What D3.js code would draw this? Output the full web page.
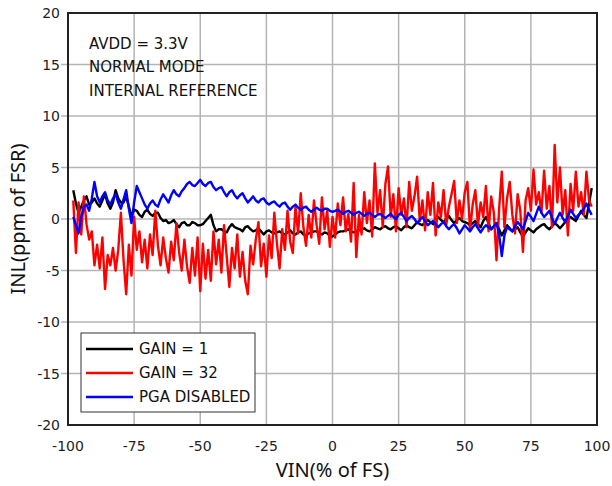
<!DOCTYPE html>
<html>
<head>
<meta charset="utf-8">
<script src="https://cdn.jsdelivr.net/npm/d3@7"></script>
<style>
  body { margin: 0; background: #fff; }
  svg { display: block; font-family: "Noto Sans", "Open Sans", sans-serif; }
  .small { font-family: "DejaVu Sans", "Noto Sans", sans-serif; }
</style>
</head>
<body>
<div id="chart"></div>
<script>
// x ticks and y ticks
const xTicks = [-100, -75, -50, -25, 0, 25, 50, 75, 100];
const yTicks = [-20, -15, -10, -5, 0, 5, 10, 15, 20];

// all series: one point per 1 % FS from -98 to 98
const xStart = -98;

// GAIN = 32
const redValues = [
  1.8, -3.3, 1.6, -1.5, 2.2, -0.5, -2.0, -1.2, -4.5, -2.5,
  -4.8, -1.8, -6.8, -3.5, -4.5, -2.8, -5.0, -3.0, 0.6, -4.0,
  -7.3, -2.5, -5.5, 0.2, -3.0, -1.2, -4.2, -2.0, -4.8, -1.5,
  -3.5, 0.8, -2.6, -4.5, -1.8, -3.8, -5.2, -2.2, -4.0, -0.4,
  -3.2, -5.0, -2.0, -4.6, -6.2, -2.8, -5.5, -1.8, -7.0, -2.4,
  -5.8, -3.0, -6.0, -1.2, -4.4, -2.0, -5.2, -0.6, -3.6, -6.6,
  -2.8, -4.8, -1.5, -5.6, -3.2, -6.0, -7.3, -2.6, -4.4, -2.0,
  -0.3, -4.6, -2.4, -5.6, -1.6, -3.8, 0.6, -2.4, -4.8, -1.0,
  -3.0, 0.8, -2.2, -3.3, 1.2, -1.4, 2.5, -0.8, -2.6, 0.4,
  -1.8, 1.8, -0.6, -2.4, 2.1, -1.0, 0.8, -2.7, 0.2, -1.8,
  1.5, -0.6, 2.1, -1.2, 0.5, -2.2, 3.5, -3.7, 0.4, -1.5,
  2.6, -0.4, 1.8, -1.7, 5.4, 0.6, 2.8, -0.8, 3.4, 5.1,
  0.2, 2.4, -1.2, 3.0, 0.4, 2.0, -0.8, 3.6, 0.8, 2.2,
  4.1, -0.2, 1.8, -1.1, 2.6, 0.4, 3.5, -1.6, 1.6, 0.2,
  2.8, -0.6, 1.2, 2.4, 3.7, -0.4, 1.8, 0.0, 2.6, 3.6,
  -1.1, 1.4, 2.8, -0.6, 1.6, 0.2, 3.2, -1.2, 2.2, 0.6,
  -4.0, 1.0, 4.6, -0.8, 2.0, 3.6, 0.4, -1.4, 2.4, 0.8,
  -3.2, 1.8, 3.0, 0.8, 4.8, 1.4, 2.6, 0.6, 4.7, 1.0,
  3.2, -0.8, 7.2, 1.6, 5.0, 0.4, 2.8, -1.6, 3.4, 0.8,
  4.6, 1.2, 2.6, 0.4, 4.6, 1.8, 1.2
];

// GAIN = 1
const blackValues = [
  2.8, 1.5, 0.6, 1.2, 1.8, 2.2, 1.4, 1.6, 2.0, 1.5,
  1.2, 1.8, 2.4, 1.5, 1.0, 1.6, 2.8, 2.0, 1.6, 1.6,
  2.2, 1.2, 0.3, 0.9, 0.8, 0.4, 0.2, 0.7, 0.9, 0.5,
  0.3, 0.6, 0.6, 0.1, -0.2, -0.1, -0.4, -0.3, -0.1, -0.5,
  -0.8, -0.4, -0.3, -0.6, -0.6, -0.3, -0.4, -0.6, -0.6, -0.5,
  -0.2, 0.1, 0.4, -0.6, -1.2, -1.0, -1.0, -1.2, -1.3, -0.8,
  -0.5, -0.8, -0.9, -1.0, -1.2, -0.8, -0.7, -1.0, -1.2, -1.1,
  -0.9, -1.2, -1.5, -1.2, -1.1, -1.3, -1.4, -1.3, -1.2, -1.4,
  -1.5, -1.3, -1.1, -1.4, -1.5, -1.3, -1.2, -1.5, -1.6, -1.4,
  -1.3, -1.2, -1.2, -1.4, -1.5, -1.3, -1.4, -1.6, -1.7, -1.5,
  -1.3, -1.2, -1.2, -1.1, -1.0, -1.2, -1.3, -1.2, -1.1, -1.0,
  -0.9, -1.1, -1.2, -1.0, -0.8, -0.9, -1.0, -0.8, -0.7, -0.9,
  -1.0, -0.8, -0.7, -0.9, -1.1, -0.8, -0.6, -0.8, -0.9, -0.6,
  -0.3, -0.5, -0.6, -0.3, -0.1, -0.3, -0.5, -0.1, 0.2, -0.1,
  -0.3, 0.0, 0.3, -0.1, -0.4, -0.1, 0.1, -0.2, -0.3, -0.4,
  -0.6, -0.4, -0.2, -0.5, -0.8, -0.2, 0.2, -0.4, -1.0, -0.7,
  -0.4, -1.0, -1.6, -1.1, -0.6, -0.9, -1.2, -1.0, -0.8, -1.3,
  -1.7, -1.3, -0.9, -1.1, -1.3, -1.0, -0.8, -0.6, -0.5, -0.8,
  -1.0, -0.7, -0.4, -0.6, -0.9, -0.6, -0.3, 0.0, 0.2, 0.0,
  -0.2, 0.3, 0.8, 0.4, 0.1, 1.5, 3.0
];

// PGA DISABLED
const blueValues = [
  0.2, -0.6, -1.4, 0.2, 1.2, 1.4, 0.8, 2.0, 3.6, 2.2,
  1.6, 2.2, 2.6, 1.8, 1.4, 2.0, 2.4, 1.6, 1.0, 1.9,
  2.8, 1.0, -0.4, 1.6, 3.2, 2.6, 2.0, 1.4, 1.0, 1.5,
  1.8, 1.4, 1.2, 1.9, 2.4, 2.0, 1.6, 2.3, 2.8, 2.4,
  2.2, 2.7, 3.0, 3.4, 3.6, 3.3, 3.2, 3.5, 3.8, 3.4,
  3.2, 3.5, 3.6, 3.1, 2.8, 3.0, 3.1, 2.6, 2.2, 2.6,
  2.8, 2.3, 2.0, 2.3, 2.5, 2.0, 1.6, 1.9, 2.2, 1.8,
  1.6, 1.9, 2.0, 1.6, 1.4, 1.6, 1.7, 1.4, 1.2, 1.5,
  1.6, 1.2, 0.9, 1.2, 1.4, 1.1, 0.9, 1.1, 1.2, 0.9,
  0.7, 0.9, 1.1, 0.9, 0.8, 1.0, 1.0, 0.8, 0.7, 0.8,
  0.9, 0.7, 0.5, 0.7, 0.8, 0.6, 0.4, 0.6, 0.7, 0.5,
  0.3, 0.5, 0.6, 0.4, 0.2, 0.4, 0.5, 0.3, 0.1, 0.3,
  0.5, 0.2, 0.0, 0.4, 0.6, 0.2, -0.2, 0.1, 0.3, 0.0,
  -0.4, -0.1, 0.2, -0.2, -0.6, -0.4, -0.2, -0.5, -0.8, -0.5,
  -0.3, -0.7, -1.0, -0.7, -0.5, -0.9, -1.4, -1.0, -0.6, -0.9,
  -1.2, -0.8, -0.5, -0.9, -1.3, -0.9, -0.6, -0.8, -1.0, -0.7,
  -0.4, -1.5, -3.6, -1.6, -0.8, -1.0, -1.2, -0.7, -0.3, -0.6,
  -1.0, -0.2, 0.6, 0.2, -0.2, 0.5, 1.2, 0.6, 0.2, 0.5,
  0.8, 0.1, -0.5, 0.1, 0.6, 0.1, -0.3, 0.3, 0.9, 0.5,
  0.1, 0.4, 0.6, 1.0, 1.5, 0.9, 0.4
];

const annotations = ["AVDD = 3.3V", "NORMAL MODE", "INTERNAL REFERENCE"];

const series = [
  { name: "GAIN = 1", color: "#000000", values: blackValues },
  { name: "GAIN = 32", color: "#ff0000", values: redValues },
  { name: "PGA DISABLED", color: "#0000ff", values: blueValues }
];

const width = 612, height = 486;
const margin = { top: 13, right: 15, bottom: 61, left: 68 };
const innerW = width - margin.left - margin.right;
const innerH = height - margin.top - margin.bottom;

const svg = d3.select("#chart").append("svg")
  .attr("width", width)
  .attr("height", height);

const x = d3.scaleLinear().domain([-100, 100]).range([0, innerW]);
const y = d3.scaleLinear().domain([-20, 20]).range([innerH, 0]);

const g = svg.append("g").attr("transform", `translate(${margin.left},${margin.top})`);

// grid
g.append("g").selectAll("line")
  .data(xTicks.slice(1, -1))
  .join("line")
  .attr("x1", d => x(d)).attr("x2", d => x(d))
  .attr("y1", 0).attr("y2", innerH)
  .attr("stroke", "#b4b4b4").attr("stroke-width", 1.5);

g.append("g").selectAll("line")
  .data(yTicks.slice(1, -1))
  .join("line")
  .attr("x1", -7).attr("x2", innerW)
  .attr("y1", d => y(d)).attr("y2", d => y(d))
  .attr("stroke", "#b4b4b4").attr("stroke-width", 1.5);

// data lines
const line = d3.line()
  .x(d => x(d[0]))
  .y(d => y(d[1]));

series.forEach(s => {
  const pts = s.values.map((v, i) => [xStart + i, v]);
  g.append("path")
    .datum(pts)
    .attr("fill", "none")
    .attr("stroke", s.color)
    .attr("stroke-width", 2.4)
    .attr("stroke-linejoin", "round")
    .attr("d", line);
});

// frame
g.append("rect")
  .attr("width", innerW).attr("height", innerH)
  .attr("fill", "none")
  .attr("stroke", "#222").attr("stroke-width", 2);

// tick labels
g.append("g").selectAll("text")
  .data(yTicks)
  .join("text")
  .attr("class", "small")
  .attr("x", -8)
  .attr("y", d => y(d))
  .attr("dy", "0.36em")
  .attr("text-anchor", "end")
  .attr("font-size", 14)
  .attr("fill", "#222")
  .text(d => d);

g.append("g").selectAll("text")
  .data(xTicks)
  .join("text")
  .attr("class", "small")
  .attr("x", d => x(d))
  .attr("y", innerH + 26)
  .attr("text-anchor", "middle")
  .attr("font-size", 14)
  .attr("fill", "#222")
  .text(d => d);

// axis titles
svg.append("text")
  .attr("x", margin.left + innerW / 2)
  .attr("y", 477)
  .attr("text-anchor", "middle")
  .attr("font-size", 20)
  .attr("fill", "#111")
  .text("VIN(% of FS)");

svg.append("text")
  .attr("transform", `translate(25,${margin.top + innerH / 2}) rotate(-90)`)
  .attr("text-anchor", "middle")
  .attr("font-size", 20)
  .attr("fill", "#111")
  .text("INL(ppm of FSR)");

// annotation
g.append("g").selectAll("text")
  .data(annotations)
  .join("text")
  .attr("class", "small")
  .attr("x", 21)
  .attr("y", (d, i) => 35.5 + i * 23.5)
  .attr("font-size", 15)
  .attr("fill", "#111")
  .text(d => d);

// legend
const legend = g.append("g").attr("transform", "translate(13,320)");
legend.append("rect")
  .attr("width", 174).attr("height", 79)
  .attr("fill", "#fff")
  .attr("stroke", "#333").attr("stroke-width", 1);

const item = legend.selectAll("g.item")
  .data(series)
  .join("g")
  .attr("class", "item")
  .attr("transform", (d, i) => `translate(0,${16 + i * 24})`);

item.append("line")
  .attr("x1", 5).attr("x2", 52)
  .attr("stroke", d => d.color)
  .attr("stroke-width", 2.4);

item.append("text")
  .attr("class", "small")
  .attr("x", 58)
  .attr("dy", "0.36em")
  .attr("font-size", 15)
  .attr("fill", "#111")
  .text(d => d.name);
</script>
</body>
</html>
